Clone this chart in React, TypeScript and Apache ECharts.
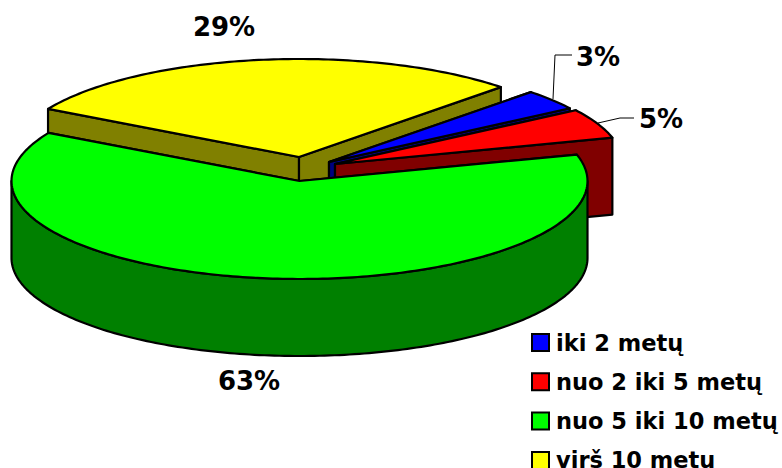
import React, { useEffect, useRef } from "react";
import * as echarts from "echarts";

// Data
const categories = ["iki 2 metų", "nuo 2 iki 5 metų", "nuo 5 iki 10 metų", "virš 10 metų"];
const values = [3.4, 4.9, 62.5, 29.2];

// Styles
const topColors = ["#0000FF", "#FF0000", "#00FF00", "#FFFF00"];
const sideColors = ["#000080", "#800000", "#008000", "#808000"];
const drawOrder = [2, 3, 4, 1];

// Layout of the tilted pie
const START_ANGLE = 45.5;
const RX = 288;
const RY = 98;
const DEPTH = 77;
const apexes = [[329, 162], [335, 164], [299.5, 181], [299, 157]];
const labelPos = [[598, 57], [661, 119], [249, 381], [224, 27]];
const leaders: (number[][] | null)[] = [
  [[553, 99], [555, 55], [572, 55]],
  [[598, 123], [620, 118], [634, 118]],
  null,
  null,
];

const total = values.reduce((a, b) => a + b, 0);

const arcPoints = (cx: number, cy: number, from: number, to: number) => {
  const n = Math.max(2, Math.ceil(Math.abs(from - to)));
  const pts: number[][] = [];
  for (let k = 0; k <= n; k++) {
    const t = ((from + ((to - from) * k) / n) * Math.PI) / 180;
    pts.push([cx + RX * Math.cos(t), cy - RY * Math.sin(t)]);
  }
  return pts;
};

const renderSlice = (params: any, api: any) => {
  const i = params.seriesIndex;
  const v = api.value(0);
  const before = values.slice(0, i).reduce((a, b) => a + b, 0);
  const a0 = START_ANGLE - (before / total) * 360;
  const a1 = a0 - (v / total) * 360;
  const [cx, cy] = apexes[i];
  const line = { stroke: "#000", lineWidth: 2.2, lineJoin: "round" };
  const side = { ...line, fill: sideColors[i] };
  const poly = (points: number[][], style: any) => ({ type: "polygon", shape: { points }, style });
  const children: any[] = [];

  const cutFace = (a: number) => {
    const e = arcPoints(cx, cy, a, a)[0];
    return poly([[cx, cy], e, [e[0], e[1] + DEPTH], [cx, cy + DEPTH]], side);
  };
  children.push(cutFace(a0));
  children.push(cutFace(a1));

  const hi = Math.min(a0, 0);
  const lo = Math.max(a1, -180);
  if (hi > lo) {
    const upper = arcPoints(cx, cy, hi, lo);
    const lower = upper.map((p) => [p[0], p[1] + DEPTH]).reverse();
    children.push(poly([...upper, ...lower], side));
  }

  children.push(poly([[cx, cy], ...arcPoints(cx, cy, a0, a1)], { ...line, fill: topColors[i] }));

  if (leaders[i]) {
    children.push({
      type: "polyline",
      shape: { points: leaders[i] },
      style: { stroke: "#000", lineWidth: 1, fill: "none" },
    });
  }
  children.push({
    type: "text",
    style: {
      text: `${Math.round(v)}%`,
      x: labelPos[i][0],
      y: labelPos[i][1],
      align: "center",
      verticalAlign: "middle",
      fill: "#000",
      fontFamily: "DejaVu Sans",
      fontWeight: "bold",
      fontSize: 26,
    },
  });
  return { type: "group", children };
};

export default function App() {
  const ref = useRef<HTMLDivElement>(null);
  useEffect(() => {
    const chart = echarts.init(ref.current!, undefined, { renderer: "svg" });
    chart.setOption({
      animation: false,
      backgroundColor: "#fff",
      legend: {
        orient: "vertical",
        left: 531,
        top: 331,
        height: 300,
        itemWidth: 17,
        itemHeight: 17,
        itemGap: 16.3,
        padding: 0,
        icon: "rect",
        selectedMode: false,
        itemStyle: { borderColor: "#000", borderWidth: 2 },
        textStyle: {
          fontFamily: "DejaVu Sans",
          fontWeight: "bold",
          fontSize: 22.5,
          lineHeight: 22,
          color: "#000",
          padding: [0, 0, 0, 2],
        },
        data: categories,
      },
      series: categories.map((name, i) => ({
        type: "custom",
        name,
        coordinateSystem: "none",
        z: drawOrder[i],
        itemStyle: { color: topColors[i] },
        data: [[values[i]]],
        renderItem: renderSlice,
      })),
    });
    return () => chart.dispose();
  }, []);
  return <div ref={ref} style={{ position: "absolute", left: 0, top: 0, width: 782, height: 468 }} />;
}
